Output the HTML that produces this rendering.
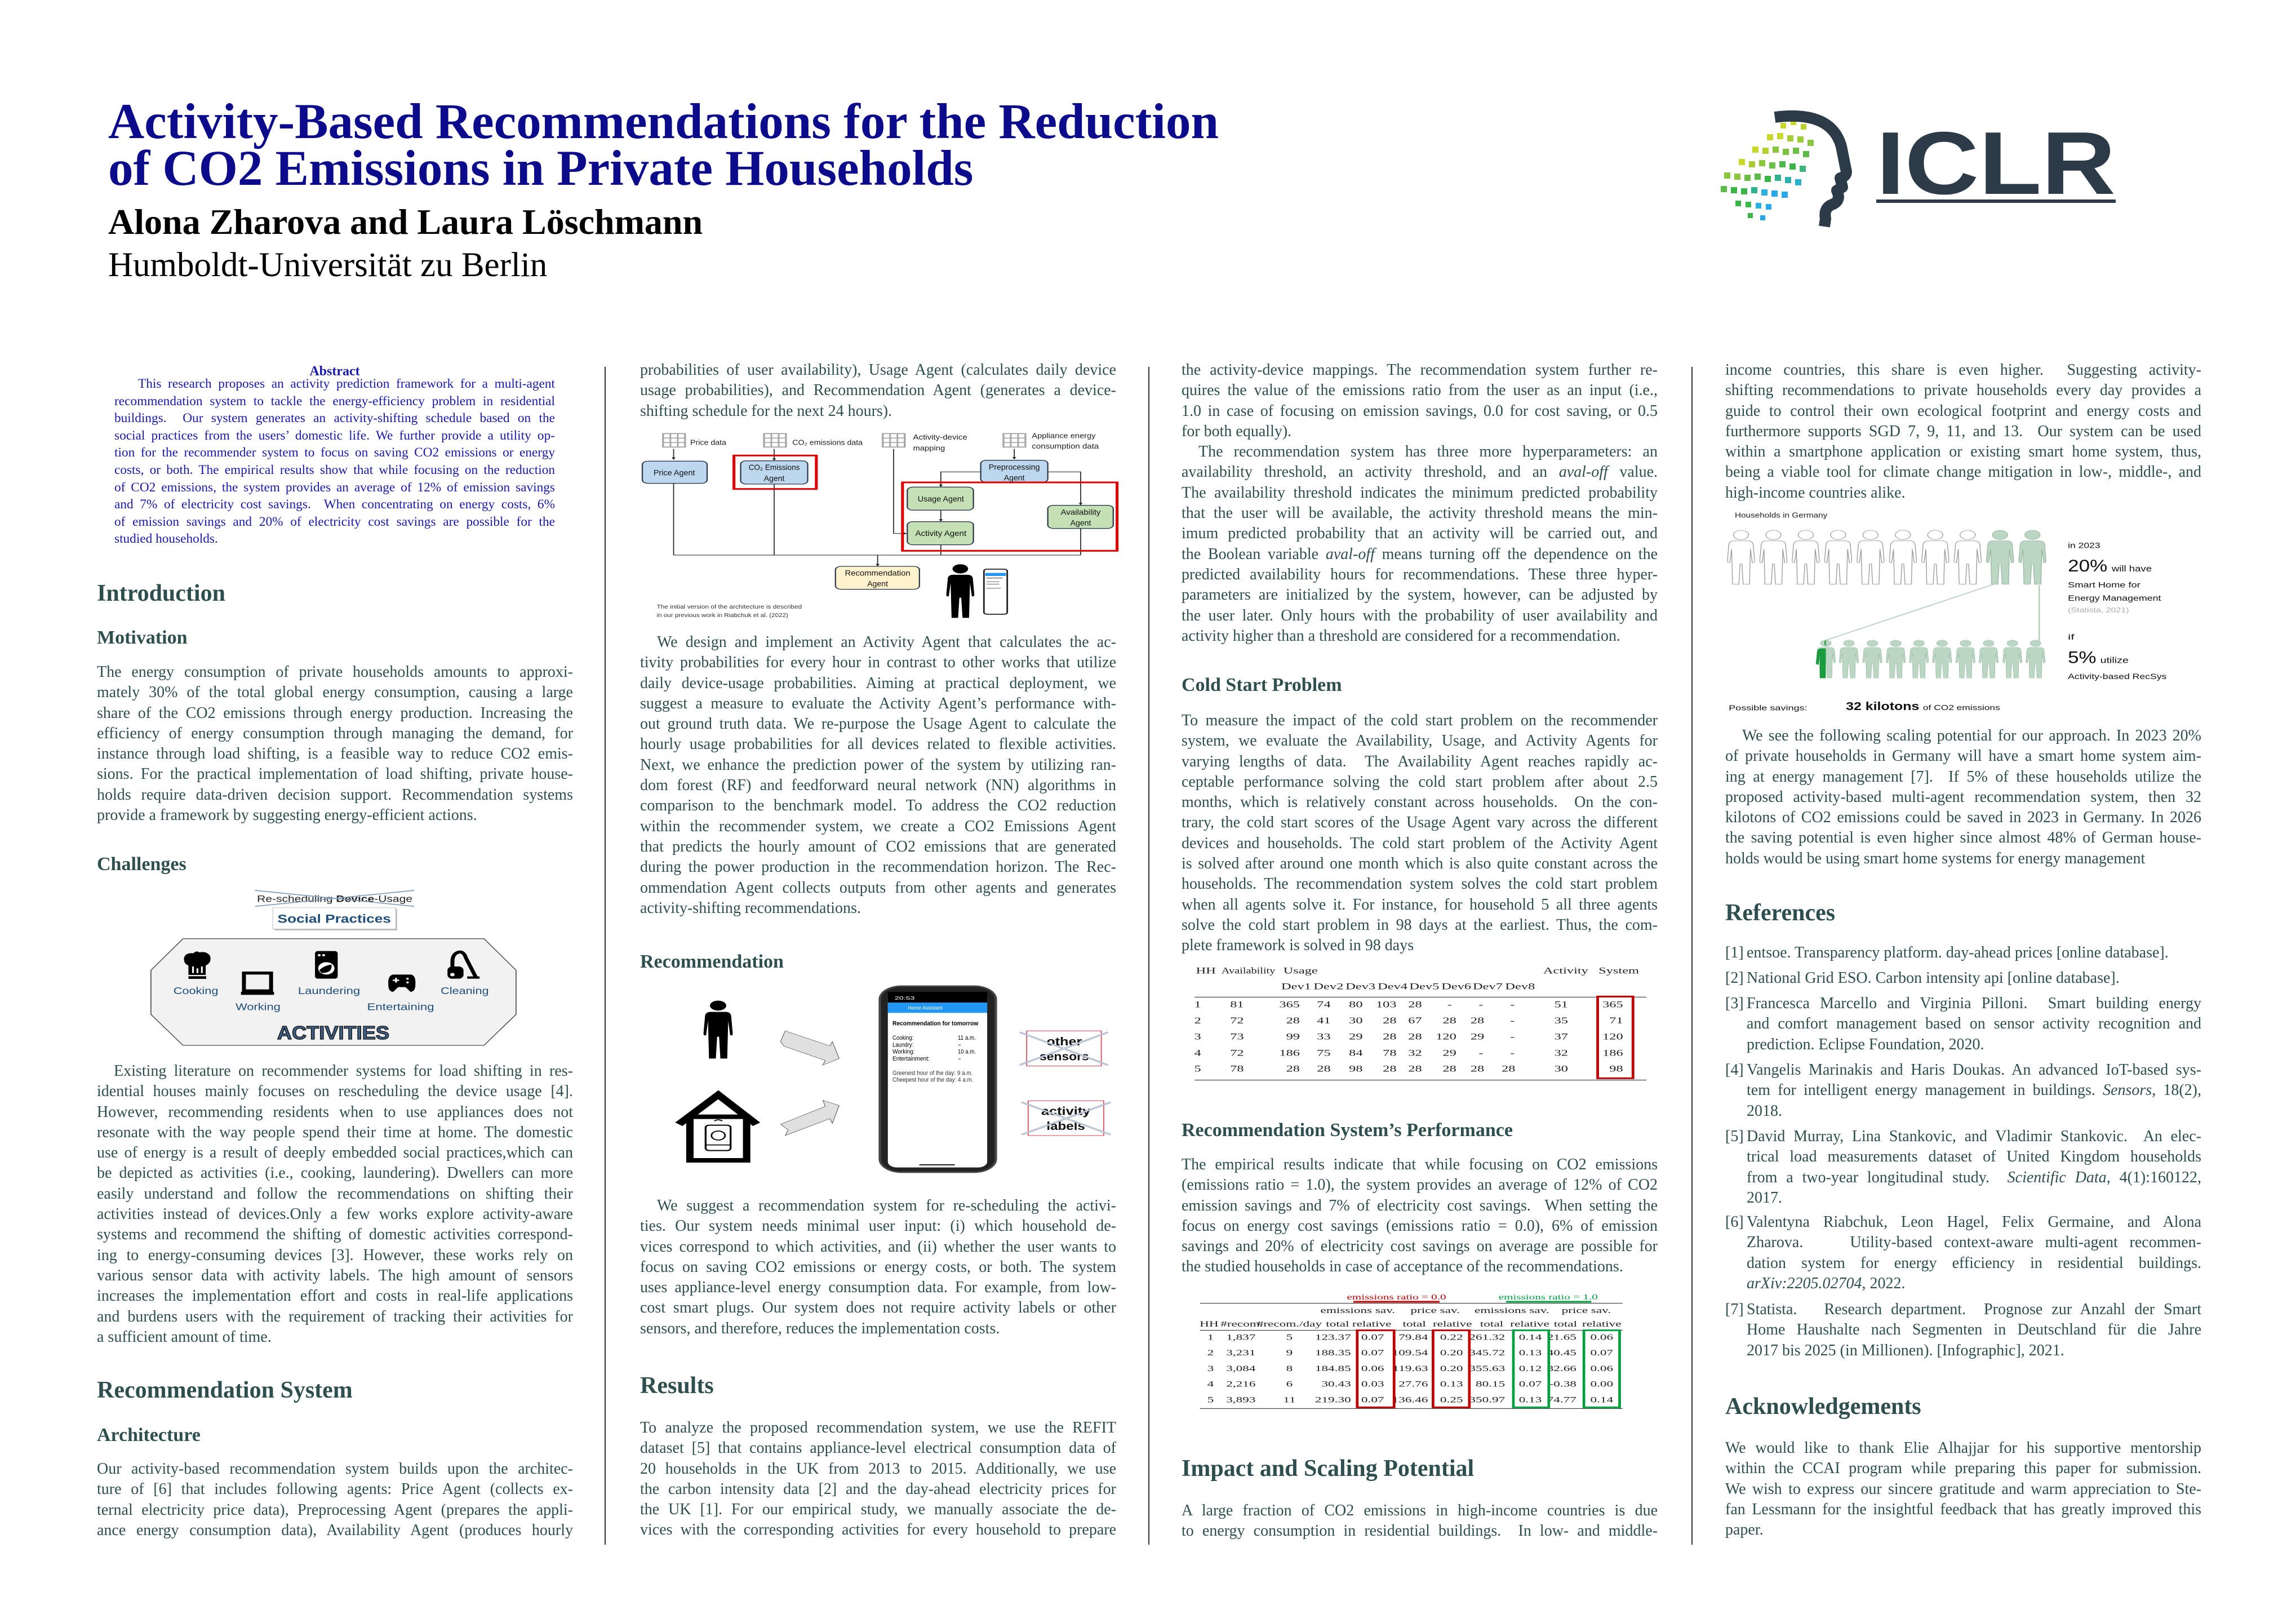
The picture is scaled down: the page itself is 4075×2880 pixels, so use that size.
<!DOCTYPE html>
<html><head><meta charset="utf-8">
<style>
html,body{margin:0;padding:0;background:#fff;}
body{width:4075px;height:2880px;position:relative;overflow:hidden;font-family:"Liberation Serif",serif;color:#2f4f4f;}
.a{position:absolute;}
.p{position:absolute;font-size:28px;margin-top:-9px;}
.p div{height:36.3px;line-height:36.3px;text-align:justify;text-align-last:justify;white-space:nowrap;}
.p div.l{text-align-last:left;}
.p div.i{text-indent:30px;}
.h1{position:absolute;font-weight:bold;font-size:42px;line-height:50px;height:50px;color:#2f4f4f;white-space:nowrap;margin-top:-10px;}
.h2{position:absolute;font-weight:bold;font-size:34px;line-height:44px;height:44px;color:#2f4f4f;white-space:nowrap;margin-top:-9px;}
.abs{position:absolute;left:203px;width:782px;font-size:23.3px;color:#1a1aa8;margin-top:-6px;}
.abs div{height:30.6px;line-height:30.6px;text-align:justify;text-align-last:justify;white-space:nowrap;}
.abs div.l{text-align-last:left;}
.vr{position:absolute;top:651px;width:2px;height:2090px;background:#333;}
svg{position:absolute;overflow:visible;}
.ref{position:absolute;left:3062px;width:845px;font-size:28px;margin-top:-9px;}
.ref span.n{position:absolute;left:0;top:0;line-height:36.3px;}
.ref .t{margin-left:38px;}
.ref .t div{height:36.3px;line-height:36.3px;text-align:justify;text-align-last:justify;white-space:nowrap;}
.ref .t div.l{text-align-last:left;}
</style></head><body>

<!-- Title -->
<div class="a" style="left:192px;top:172px;font-size:89px;line-height:89px;font-weight:bold;color:#0b0b8c;white-space:nowrap;">Activity-Based Recommendations for the Reduction</div>
<div class="a" style="left:192px;top:255px;font-size:89px;line-height:89px;font-weight:bold;color:#0b0b8c;white-space:nowrap;">of CO2 Emissions in Private Households</div>
<div class="a" style="left:192px;top:362px;font-size:64px;line-height:64px;font-weight:bold;color:#000;white-space:nowrap;">Alona Zharova and Laura Löschmann</div>
<div class="a" style="left:192px;top:440px;font-size:61px;line-height:61px;color:#000;white-space:nowrap;">Humboldt-Universität zu Berlin</div>

<!-- ICLR logo -->
<svg style="left:3040px;top:190px" width="800" height="220" viewBox="0 0 800 220">
  <g>
    <rect x="120" y="28" width="10" height="10" fill="#c9d62a"/><rect x="138" y="22" width="10" height="10" fill="#c9d62a"/><rect x="156" y="30" width="10" height="10" fill="#b8d030"/>
    <rect x="96" y="48" width="11" height="11" fill="#c9d62a"/><rect x="114" y="46" width="11" height="11" fill="#c9d62a"/><rect x="132" y="50" width="11" height="11" fill="#a8cc35"/><rect x="150" y="52" width="11" height="11" fill="#9ccc3a"/><rect x="168" y="58" width="11" height="11" fill="#8cc63e"/>
    <rect x="70" y="70" width="11" height="11" fill="#c9d62a"/><rect x="88" y="72" width="11" height="11" fill="#b8d030"/><rect x="106" y="70" width="11" height="11" fill="#8cc63e"/><rect x="124" y="74" width="11" height="11" fill="#7cc242"/><rect x="142" y="72" width="11" height="11" fill="#6cbf45"/><rect x="160" y="78" width="11" height="11" fill="#5cbb48"/>
    <rect x="46" y="92" width="11" height="11" fill="#c9d62a"/><rect x="64" y="96" width="11" height="11" fill="#a8cc35"/><rect x="82" y="94" width="11" height="11" fill="#8cc63e"/><rect x="100" y="98" width="11" height="11" fill="#6cbf45"/><rect x="118" y="96" width="11" height="11" fill="#4cb84a"/><rect x="136" y="100" width="11" height="11" fill="#3cb44a"/><rect x="154" y="104" width="11" height="11" fill="#3cb47a"/>
    <rect x="20" y="116" width="11" height="11" fill="#8cc63e"/><rect x="38" y="118" width="11" height="11" fill="#8cc63e"/><rect x="56" y="120" width="11" height="11" fill="#6cbf45"/><rect x="74" y="118" width="11" height="11" fill="#5cbb48"/><rect x="92" y="122" width="11" height="11" fill="#3cb44a"/><rect x="110" y="120" width="11" height="11" fill="#2fb28f"/><rect x="128" y="124" width="11" height="11" fill="#2cb0b0"/><rect x="146" y="128" width="11" height="11" fill="#2bb0d0"/>
    <rect x="14" y="140" width="11" height="11" fill="#5cbb48"/><rect x="32" y="142" width="11" height="11" fill="#3cb44a"/><rect x="50" y="144" width="11" height="11" fill="#3cb44a"/><rect x="68" y="142" width="11" height="11" fill="#2fb28f"/><rect x="86" y="146" width="11" height="11" fill="#2bb0e0"/><rect x="104" y="148" width="11" height="11" fill="#29a8e8"/><rect x="122" y="150" width="11" height="11" fill="#29a8e8"/>
    <rect x="40" y="166" width="10" height="10" fill="#3cb44a"/><rect x="58" y="168" width="10" height="10" fill="#3cb44a"/><rect x="76" y="170" width="10" height="10" fill="#2bb0e0"/><rect x="94" y="172" width="10" height="10" fill="#29a8e8"/>
    <rect x="62" y="188" width="9" height="9" fill="#3cb44a"/><rect x="84" y="192" width="9" height="9" fill="#29a8e8"/>
  </g>
  <path d="M110,18 Q210,5 228,70 L236,110 Q240,122 226,126 L230,142 L220,148 Q228,165 214,172 Q196,178 200,198 L198,212" fill="none" stroke="#2d3a48" stroke-width="20" stroke-linejoin="round"/>
  <text x="290" y="154" font-family="Liberation Sans, sans-serif" font-weight="bold" font-size="158" fill="#2d3a48" textLength="425" lengthAdjust="spacingAndGlyphs">ICLR</text>
  <rect x="290" y="164" width="425" height="6" fill="#2d3a48"/>
</svg>

<!-- column separators -->
<div class="vr" style="left:1073px"></div>
<div class="vr" style="left:2038px"></div>
<div class="vr" style="left:3002px"></div>

<!-- Abstract -->
<div class="a" style="left:203px;width:782px;top:644px;text-align:center;font-size:24px;font-weight:bold;color:#1a1aa8;line-height:30px;">Abstract</div>
<div class="abs" style="top:672px">
<div style="text-indent:42px">This research proposes an activity prediction framework for a multi-agent</div>
<div>recommendation system to tackle the energy-efficiency problem in residential</div>
<div>buildings.&nbsp; Our system generates an activity-shifting schedule based on the</div>
<div>social practices from the users’ domestic life. We further provide a utility op-</div>
<div>tion for the recommender system to focus on saving CO2 emissions or energy</div>
<div>costs, or both. The empirical results show that while focusing on the reduction</div>
<div>of CO2 emissions, the system provides an average of 12% of emission savings</div>
<div>and 7% of electricity cost savings.&nbsp; When concentrating on energy costs, 6%</div>
<div>of emission savings and 20% of electricity cost savings are possible for the</div>
<div class="l">studied households.</div>
</div>

<!-- Column 1 -->
<div class="h1" style="left:172px;top:1038px">Introduction</div>
<div class="h2" style="left:172px;top:1119px">Motivation</div>
<div class="p" style="left:172px;width:845px;top:1184px">
<div>The energy consumption of private households amounts to approxi-</div>
<div>mately 30% of the total global energy consumption, causing a large</div>
<div>share of the CO2 emissions through energy production. Increasing the</div>
<div>efficiency of energy consumption through managing the demand, for</div>
<div>instance through load shifting, is a feasible way to reduce CO2 emis-</div>
<div>sions. For the practical implementation of load shifting, private house-</div>
<div>holds require data-driven decision support. Recommendation systems</div>
<div class="l">provide a framework by suggesting energy-efficient actions.</div>
</div>
<div class="h2" style="left:172px;top:1521px">Challenges</div>

<svg style="left:260px;top:1580px" width="680" height="300" viewBox="0 0 1553 900" preserveAspectRatio="none">
  <text x="448" y="62" font-family="Liberation Sans, sans-serif" font-size="50" fill="#222" textLength="630" lengthAdjust="spacingAndGlyphs">Re-scheduling <tspan font-weight="bold">Device</tspan>-Usage</text>
  <line x1="440" y1="0" x2="1085" y2="85" stroke="#7f9cb8" stroke-width="5"/>
  <line x1="440" y1="85" x2="1085" y2="0" stroke="#7f9cb8" stroke-width="5"/>
  <rect x="518" y="99" width="498" height="114" fill="#bbb"/>
  <rect x="512" y="92" width="498" height="113" fill="#fff" stroke="#ccc" stroke-width="3"/>
  <text x="761" y="172" text-anchor="middle" font-family="Liberation Sans, sans-serif" font-weight="bold" font-size="64" fill="#1f4e79" textLength="460" lengthAdjust="spacingAndGlyphs">Social Practices</text>
  <polygon points="148,257 1368,257 1498,425 1498,660 1368,825 148,825 18,660 18,425" fill="#f2f2f2" stroke="#555" stroke-width="4"/>
  <path d="M170,400 Q150,390 152,360 Q158,330 190,335 Q200,318 215,330 Q245,322 258,350 Q265,385 240,400 L240,450 L170,450 Z" fill="#000"/>
  <rect x="170" y="457" width="72" height="14" fill="#000"/>
  <rect x="185" y="405" width="7" height="35" fill="#fff"/><rect x="203" y="415" width="7" height="25" fill="#fff"/><rect x="221" y="405" width="7" height="35" fill="#fff"/>
  <rect x="395" y="440" width="110" height="95" fill="none" stroke="#000" stroke-width="16"/>
  <rect x="383" y="540" width="134" height="16" fill="#000"/>
  <rect x="683" y="323" width="92" height="147" rx="12" fill="#000"/>
  <circle cx="729" cy="415" r="33" fill="#fff"/><path d="M700,425 Q720,400 750,395 Q755,440 710,440Z" fill="#000"/>
  <circle cx="700" cy="345" r="6" fill="#fff"/><circle cx="718" cy="345" r="6" fill="#fff"/>
  <path d="M1000,448 H1072 Q1092,452 1090,500 Q1090,540 1070,540 L1050,515 H1020 L1000,540 Q980,540 980,500 Q978,452 1000,448Z" fill="#000"/>
  <rect x="998" y="475" width="26" height="7" fill="#fff"/><rect x="1008" y="465" width="7" height="26" fill="#fff"/><circle cx="1058" cy="470" r="5" fill="#fff"/><circle cx="1058" cy="490" r="5" fill="#fff"/>
  <path d="M1240,470 L1240,380 Q1240,340 1262,330 Q1285,320 1295,360 L1335,462" fill="none" stroke="#000" stroke-width="16"/>
  <rect x="1220" y="405" width="65" height="65" rx="20" fill="#000"/><circle cx="1240" cy="448" r="9" fill="#fff"/>
  <rect x="1300" y="458" width="50" height="12" fill="#000"/>
  <g font-family="Liberation Sans, sans-serif" font-size="54" fill="#1f4e79" text-anchor="middle">
    <text x="200" y="552" textLength="182" lengthAdjust="spacingAndGlyphs">Cooking</text>
    <text x="452" y="637" textLength="182" lengthAdjust="spacingAndGlyphs">Working</text>
    <text x="740" y="552" textLength="252" lengthAdjust="spacingAndGlyphs">Laundering</text>
    <text x="1030" y="637" textLength="272" lengthAdjust="spacingAndGlyphs">Entertaining</text>
    <text x="1290" y="552" textLength="195" lengthAdjust="spacingAndGlyphs">Cleaning</text>
  </g>
  <text x="757" y="792" text-anchor="middle" font-family="Liberation Sans, sans-serif" font-weight="bold" font-size="100" fill="#3e6189" stroke="#111" stroke-width="4" textLength="455" lengthAdjust="spacingAndGlyphs">ACTIVITIES</text>
</svg>

<div class="p" style="left:172px;width:845px;top:1892px">
<div class="i">Existing literature on recommender systems for load shifting in res-</div>
<div>idential houses mainly focuses on rescheduling the device usage [4].</div>
<div>However, recommending residents when to use appliances does not</div>
<div>resonate with the way people spend their time at home. The domestic</div>
<div>use of energy is a result of deeply embedded social practices,which can</div>
<div>be depicted as activities (i.e., cooking, laundering). Dwellers can more</div>
<div>easily understand and follow the recommendations on shifting their</div>
<div>activities instead of devices.Only a few works explore activity-aware</div>
<div>systems and recommend the shifting of domestic activities correspond-</div>
<div>ing to energy-consuming devices [3]. However, these works rely on</div>
<div>various sensor data with activity labels. The high amount of sensors</div>
<div>increases the implementation effort and costs in real-life applications</div>
<div>and burdens users with the requirement of tracking their activities for</div>
<div class="l">a sufficient amount of time.</div>
</div>
<div class="h1" style="left:172px;top:2452px">Recommendation System</div>
<div class="h2" style="left:172px;top:2534px">Architecture</div>
<div class="p" style="left:172px;width:845px;top:2598px">
<div>Our activity-based recommendation system builds upon the architec-</div>
<div>ture of [6] that includes following agents: Price Agent (collects ex-</div>
<div>ternal electricity price data), Preprocessing Agent (prepares the appli-</div>
<div>ance energy consumption data), Availability Agent (produces hourly</div>
</div>

<!-- Column 2 -->
<div class="p" style="left:1136px;width:845px;top:648px">
<div>probabilities of user availability), Usage Agent (calculates daily device</div>
<div>usage probabilities), and Recommendation Agent (generates a device-</div>
<div class="l">shifting schedule for the next 24 hours).</div>
</div>

<svg style="left:1140px;top:750px" width="880" height="370" viewBox="0 0 1553 1110" preserveAspectRatio="none">
  <defs>
    <symbol id="grid" viewBox="0 0 75 78"><rect x="3" y="3" width="69" height="72" fill="#fff" stroke="#a6a6a6" stroke-width="6"/><line x1="3" y1="27" x2="72" y2="27" stroke="#a6a6a6" stroke-width="5"/><line x1="3" y1="51" x2="72" y2="51" stroke="#a6a6a6" stroke-width="5"/><line x1="26" y1="3" x2="26" y2="75" stroke="#a6a6a6" stroke-width="5"/><line x1="49" y1="3" x2="49" y2="75" stroke="#a6a6a6" stroke-width="5"/></symbol>
    <symbol id="pp" viewBox="0 0 90 300"><circle cx="45" cy="28" r="25"/><path d="M22,60 H68 Q82,60 85,78 L90,170 Q90,180 82,178 L76,105 L73,295 H52 L48,185 H42 L38,295 H17 L14,105 L8,178 Q0,180 0,170 L5,78 Q8,60 22,60Z"/></symbol>
  </defs>
  <use href="#grid" x="62" y="55" width="75" height="78"/>
  <use href="#grid" x="378" y="55" width="75" height="78"/>
  <use href="#grid" x="750" y="55" width="75" height="78"/>
  <use href="#grid" x="1128" y="55" width="75" height="78"/>
  <g font-family="Liberation Sans, sans-serif" font-size="40" fill="#222">
    <text x="150" y="118" textLength="113" lengthAdjust="spacingAndGlyphs">Price data</text>
    <text x="470" y="118" textLength="220" lengthAdjust="spacingAndGlyphs">CO₂ emissions data</text>
    <text x="848" y="90" textLength="170" lengthAdjust="spacingAndGlyphs">Activity-device</text>
    <text x="848" y="148" textLength="100" lengthAdjust="spacingAndGlyphs">mapping</text>
    <text x="1220" y="82" textLength="200" lengthAdjust="spacingAndGlyphs">Appliance energy</text>
    <text x="1220" y="138" textLength="210" lengthAdjust="spacingAndGlyphs">consumption data</text>
  </g>
  <g stroke="#222" stroke-width="3" fill="none">
    <line x1="98" y1="140" x2="98" y2="195"/>
    <line x1="413" y1="140" x2="413" y2="200"/>
    <line x1="1165" y1="140" x2="1165" y2="193"/>
    <line x1="98" y1="323" x2="98" y2="705"/>
    <line x1="413" y1="327" x2="413" y2="705"/>
    <line x1="98" y1="705" x2="1373" y2="705"/>
    <polyline points="1060,262 935,262 935,340"/>
    <polyline points="1270,262 1373,262 1373,437"/>
    <line x1="935" y1="466" x2="935" y2="524"/>
    <polyline points="787,140 787,590 827,590"/>
    <line x1="935" y1="650" x2="935" y2="705"/>
    <line x1="1373" y1="563" x2="1373" y2="705"/>
    <line x1="737" y1="705" x2="737" y2="762"/>
  </g>
  <g fill="#222">
    <polygon points="92,185 104,185 98,198"/><polygon points="407,190 419,190 413,203"/><polygon points="1159,183 1171,183 1165,196"/>
    <polygon points="929,330 941,330 935,343"/><polygon points="1367,427 1379,427 1373,440"/><polygon points="929,514 941,514 935,527"/>
    <polygon points="818,584 818,596 830,590"/><polygon points="731,752 743,752 737,765"/>
  </g>
  <g stroke="#2e3b4e" stroke-width="4">
    <rect x="0" y="205" width="203" height="118" rx="18" fill="#bdd7ee"/>
    <rect x="308" y="203" width="210" height="124" rx="18" fill="#bdd7ee"/>
    <rect x="1060" y="200" width="210" height="118" rx="18" fill="#bdd7ee"/>
    <rect x="830" y="343" width="207" height="123" rx="18" fill="#c5e0b4"/>
    <rect x="830" y="527" width="207" height="123" rx="18" fill="#c5e0b4"/>
    <rect x="1270" y="440" width="205" height="123" rx="18" fill="#c5e0b4"/>
    <rect x="605" y="765" width="263" height="122" rx="18" fill="#fff2cc"/>
  </g>
  <rect x="287" y="175" width="258" height="178" fill="none" stroke="#e00000" stroke-width="9"/>
  <rect x="815" y="318" width="672" height="364" fill="none" stroke="#e00000" stroke-width="9"/>
  <g font-family="Liberation Sans, sans-serif" font-size="42" fill="#111" text-anchor="middle">
    <text x="100" y="280" textLength="130" lengthAdjust="spacingAndGlyphs">Price Agent</text>
    <text x="413" y="252" textLength="160" lengthAdjust="spacingAndGlyphs">CO₂ Emissions</text>
    <text x="413" y="310" textLength="65" lengthAdjust="spacingAndGlyphs">Agent</text>
    <text x="1165" y="250" textLength="160" lengthAdjust="spacingAndGlyphs">Preprocessing</text>
    <text x="1165" y="307" textLength="65" lengthAdjust="spacingAndGlyphs">Agent</text>
    <text x="935" y="420" textLength="145" lengthAdjust="spacingAndGlyphs">Usage Agent</text>
    <text x="935" y="603" textLength="160" lengthAdjust="spacingAndGlyphs">Activity Agent</text>
    <text x="1373" y="490" textLength="125" lengthAdjust="spacingAndGlyphs">Availability</text>
    <text x="1373" y="547" textLength="65" lengthAdjust="spacingAndGlyphs">Agent</text>
    <text x="737" y="815" textLength="205" lengthAdjust="spacingAndGlyphs">Recommendation</text>
    <text x="737" y="872" textLength="65" lengthAdjust="spacingAndGlyphs">Agent</text>
  </g>
  <use href="#pp" x="952" y="750" width="88" height="295" fill="#000"/>
  <rect x="1070" y="780" width="73" height="240" rx="10" fill="#fff" stroke="#222" stroke-width="5"/>
  <rect x="1074" y="800" width="65" height="16" fill="#2196f3"/>
  <g fill="#666"><rect x="1078" y="825" width="50" height="4"/><rect x="1078" y="845" width="40" height="3"/><rect x="1078" y="858" width="40" height="3"/><rect x="1078" y="880" width="45" height="3"/></g>
  <g font-family="Liberation Sans, sans-serif" font-size="30" fill="#333">
    <text x="45" y="990" textLength="455" lengthAdjust="spacingAndGlyphs">The initial version of the architecture is described</text>
    <text x="45" y="1035" textLength="412" lengthAdjust="spacingAndGlyphs">in our previous work in Riabchuk et al. (2022)</text>
  </g>
</svg>

<div class="p" style="left:1136px;width:845px;top:1131px">
<div class="i">We design and implement an Activity Agent that calculates the ac-</div>
<div>tivity probabilities for every hour in contrast to other works that utilize</div>
<div>daily device-usage probabilities. Aiming at practical deployment, we</div>
<div>suggest a measure to evaluate the Activity Agent’s performance with-</div>
<div>out ground truth data. We re-purpose the Usage Agent to calculate the</div>
<div>hourly usage probabilities for all devices related to flexible activities.</div>
<div>Next, we enhance the prediction power of the system by utilizing ran-</div>
<div>dom forest (RF) and feedforward neural network (NN) algorithms in</div>
<div>comparison to the benchmark model. To address the CO2 reduction</div>
<div>within the recommender system, we create a CO2 Emissions Agent</div>
<div>that predicts the hourly amount of CO2 emissions that are generated</div>
<div>during the power production in the recommendation horizon. The Rec-</div>
<div>ommendation Agent collects outputs from other agents and generates</div>
<div class="l">activity-shifting recommendations.</div>
</div>
<div class="h2" style="left:1136px;top:1694px">Recommendation</div>

<svg style="left:1150px;top:1700px" width="850" height="380" viewBox="0 0 1553 1140" preserveAspectRatio="none">
  <use href="#pp" x="180" y="222" width="95" height="320" fill="#000"/>
  <polygon points="430,445 445,388 590,468 598,445 620,535 567,570 575,545 442,470" fill="#e0e0e0" stroke="#555" stroke-width="2"/>
  <polygon points="430,885 575,790 567,757 620,785 598,880 590,855 445,945 455,915" fill="#e0e0e0" stroke="#555" stroke-width="2"/>
  <polyline points="100,885 228,728 352,885" fill="none" stroke="#000" stroke-width="30"/>
  <rect x="136" y="845" width="184" height="232" fill="none" stroke="#000" stroke-width="24"/>
  <rect x="187" y="890" width="81" height="135" rx="12" fill="#fff" stroke="#000" stroke-width="6"/>
  <line x1="187" y1="995" x2="268" y2="995" stroke="#000" stroke-width="5"/>
  <ellipse cx="228" cy="945" rx="22" ry="24" fill="none" stroke="#000" stroke-width="5"/>
  <path d="M208,855 Q228,835 248,855 M215,868 Q228,855 241,868" fill="none" stroke="#000" stroke-width="5"/>
  <rect x="752" y="150" width="376" height="990" rx="70" fill="#222" stroke="#444" stroke-width="8"/>
  <rect x="778" y="180" width="322" height="935" rx="30" fill="#fff"/>
  <rect x="778" y="180" width="322" height="57" fill="#000"/>
  <rect x="778" y="237" width="322" height="55" fill="#2196f3"/>
  <rect x="880" y="1098" width="115" height="6" fill="#222"/>
  <g font-family="Liberation Sans, sans-serif">
    <text x="800" y="222" font-size="26" fill="#fff">20:53</text>
    <text x="843" y="275" font-size="28" fill="#fff" textLength="112" lengthAdjust="spacingAndGlyphs">Home Assistant</text>
    <text x="793" y="358" font-size="34" font-weight="bold" fill="#000" textLength="278" lengthAdjust="spacingAndGlyphs">Recommendation for tomorrow</text>
    <g font-size="32" fill="#000">
      <text x="793" y="435" textLength="68" lengthAdjust="spacingAndGlyphs">Cooking:</text><text x="1005" y="435" textLength="58" lengthAdjust="spacingAndGlyphs">11 a.m.</text>
      <text x="793" y="472" textLength="68" lengthAdjust="spacingAndGlyphs">Laundry:</text><text x="1005" y="472">-</text>
      <text x="793" y="508" textLength="72" lengthAdjust="spacingAndGlyphs">Working:</text><text x="1005" y="508" textLength="58" lengthAdjust="spacingAndGlyphs">10 a.m.</text>
      <text x="793" y="546" textLength="120" lengthAdjust="spacingAndGlyphs">Entertainment:</text><text x="1005" y="546">-</text>
    </g>
    <g font-size="32" fill="#333">
      <text x="793" y="622" textLength="260" lengthAdjust="spacingAndGlyphs">Greenest hour of the day:   9 a.m.</text>
      <text x="793" y="659" textLength="262" lengthAdjust="spacingAndGlyphs">Cheepest hour of the day:   4 a.m.</text>
    </g>
    <rect x="1228" y="388" width="242" height="187" fill="#fff" stroke="#e04050" stroke-width="3"/>
    <text x="1350" y="465" text-anchor="middle" font-size="60" font-weight="bold" fill="#111" textLength="115" lengthAdjust="spacingAndGlyphs">other</text>
    <text x="1350" y="545" text-anchor="middle" font-size="60" font-weight="bold" fill="#111" textLength="160" lengthAdjust="spacingAndGlyphs">sensors</text>
    <rect x="1233" y="760" width="245" height="185" fill="#fff" stroke="#e04050" stroke-width="3"/>
    <text x="1355" y="835" text-anchor="middle" font-size="60" font-weight="bold" fill="#111" textLength="160" lengthAdjust="spacingAndGlyphs">activity</text>
    <text x="1355" y="915" text-anchor="middle" font-size="60" font-weight="bold" fill="#111" textLength="125" lengthAdjust="spacingAndGlyphs">labels</text>
  </g>
  <g stroke="#9aa8c0" stroke-width="8">
    <line x1="1205" y1="395" x2="1492" y2="570"/><line x1="1205" y1="570" x2="1492" y2="395"/>
    <line x1="1212" y1="768" x2="1500" y2="940"/><line x1="1212" y1="940" x2="1500" y2="768"/>
  </g>
  <g stroke="#fff" stroke-width="2">
    <line x1="1205" y1="395" x2="1492" y2="570"/><line x1="1205" y1="570" x2="1492" y2="395"/>
    <line x1="1212" y1="768" x2="1500" y2="940"/><line x1="1212" y1="940" x2="1500" y2="768"/>
  </g>
</svg>

<div class="p" style="left:1136px;width:845px;top:2131px">
<div class="i">We suggest a recommendation system for re-scheduling the activi-</div>
<div>ties. Our system needs minimal user input: (i) which household de-</div>
<div>vices correspond to which activities, and (ii) whether the user wants to</div>
<div>focus on saving CO2 emissions or energy costs, or both. The system</div>
<div>uses appliance-level energy consumption data. For example, from low-</div>
<div>cost smart plugs. Our system does not require activity labels or other</div>
<div class="l">sensors, and therefore, reduces the implementation costs.</div>
</div>
<div class="h1" style="left:1136px;top:2444px">Results</div>
<div class="p" style="left:1136px;width:845px;top:2525px">
<div>To analyze the proposed recommendation system, we use the REFIT</div>
<div>dataset [5] that contains appliance-level electrical consumption data of</div>
<div>20 households in the UK from 2013 to 2015. Additionally, we use</div>
<div>the carbon intensity data [2] and the day-ahead electricity prices for</div>
<div>the UK [1]. For our empirical study, we manually associate the de-</div>
<div>vices with the corresponding activities for every household to prepare</div>
</div>

<!-- Column 3 -->
<div class="p" style="left:2097px;width:845px;top:648px">
<div>the activity-device mappings. The recommendation system further re-</div>
<div>quires the value of the emissions ratio from the user as an input (i.e.,</div>
<div>1.0 in case of focusing on emission savings, 0.0 for cost saving, or 0.5</div>
<div class="l">for both equally).</div>
<div class="i">The recommendation system has three more hyperparameters: an</div>
<div>availability threshold, an activity threshold, and an <i>aval-off</i> value.</div>
<div>The availability threshold indicates the minimum predicted probability</div>
<div>that the user will be available, the activity threshold means the min-</div>
<div>imum predicted probability that an activity will be carried out, and</div>
<div>the Boolean variable <i>aval-off</i> means turning off the dependence on the</div>
<div>predicted availability hours for recommendations. These three hyper-</div>
<div>parameters are initialized by the system, however, can be adjusted by</div>
<div>the user later. Only hours with the probability of user availability and</div>
<div class="l">activity higher than a threshold are considered for a recommendation.</div>
</div>
<div class="h2" style="left:2097px;top:1203px">Cold Start Problem</div>
<div class="p" style="left:2097px;width:845px;top:1270px">
<div>To measure the impact of the cold start problem on the recommender</div>
<div>system, we evaluate the Availability, Usage, and Activity Agents for</div>
<div>varying lengths of data.&nbsp; The Availability Agent reaches rapidly ac-</div>
<div>ceptable performance solving the cold start problem after about 2.5</div>
<div>months, which is relatively constant across households.&nbsp; On the con-</div>
<div>trary, the cold start scores of the Usage Agent vary across the different</div>
<div>devices and households. The cold start problem of the Activity Agent</div>
<div>is solved after around one month which is also quite constant across the</div>
<div>households. The recommendation system solves the cold start problem</div>
<div>when all agents solve it. For instance, for household 5 all three agents</div>
<div>solve the cold start problem in 98 days at the earliest. Thus, the com-</div>
<div class="l">plete framework is solved in 98 days</div>
</div>

<svg style="left:2120px;top:1710px" width="825" height="230" viewBox="0 0 1553 690" preserveAspectRatio="none">
  <g font-family="Liberation Serif, serif" font-size="46" fill="#222">
    <text x="5" y="52">HH</text>
    <text x="90" y="52" textLength="180" lengthAdjust="spacingAndGlyphs">Availability</text>
    <text x="297" y="52">Usage</text>
    <text x="1165" y="52">Activity</text>
    <text x="1350" y="52">System</text>
    <text x="290" y="137">Dev1</text><text x="398" y="137">Dev2</text><text x="505" y="137">Dev3</text><text x="612" y="137">Dev4</text>
    <text x="718" y="137">Dev5</text><text x="825" y="137">Dev6</text><text x="930" y="137">Dev7</text><text x="1038" y="137">Dev8</text>
  </g>
  <line x1="0" y1="178" x2="1510" y2="178" stroke="#222" stroke-width="3"/>
  <line x1="0" y1="620" x2="1510" y2="620" stroke="#222" stroke-width="3"/>
  <g font-family="Liberation Serif, serif" font-size="46" fill="#222" text-anchor="end">
    <g transform="translate(0,232)"><text x="22">1</text><text x="165">81</text><text x="352">365</text><text x="455">74</text><text x="562">80</text><text x="675">103</text><text x="760">28</text><text x="860">-</text><text x="965">-</text><text x="1070">-</text><text x="1248">51</text><text x="1432">365</text></g>
    <g transform="translate(0,318)"><text x="22">2</text><text x="165">72</text><text x="352">28</text><text x="455">41</text><text x="562">30</text><text x="675">28</text><text x="760">67</text><text x="875">28</text><text x="968">28</text><text x="1070">-</text><text x="1248">35</text><text x="1432">71</text></g>
    <g transform="translate(0,403)"><text x="22">3</text><text x="165">73</text><text x="352">99</text><text x="455">33</text><text x="562">29</text><text x="675">28</text><text x="760">28</text><text x="875">120</text><text x="968">29</text><text x="1070">-</text><text x="1248">37</text><text x="1432">120</text></g>
    <g transform="translate(0,490)"><text x="22">4</text><text x="165">72</text><text x="352">186</text><text x="455">75</text><text x="562">84</text><text x="675">78</text><text x="760">32</text><text x="875">29</text><text x="965">-</text><text x="1070">-</text><text x="1248">32</text><text x="1432">186</text></g>
    <g transform="translate(0,575)"><text x="22">5</text><text x="165">78</text><text x="352">28</text><text x="455">28</text><text x="562">98</text><text x="675">28</text><text x="760">28</text><text x="875">28</text><text x="968">28</text><text x="1072">28</text><text x="1248">30</text><text x="1432">98</text></g>
  </g>
  <rect x="1347" y="175" width="118" height="435" fill="none" stroke="#c00000" stroke-width="9"/>
</svg>

<div class="h2" style="left:2097px;top:1993px">Recommendation System’s Performance</div>
<div class="p" style="left:2097px;width:845px;top:2058px">
<div>The empirical results indicate that while focusing on CO2 emissions</div>
<div>(emissions ratio = 1.0), the system provides an average of 12% of CO2</div>
<div>emission savings and 7% of electricity cost savings.&nbsp; When setting the</div>
<div>focus on energy cost savings (emissions ratio = 0.0), 6% of emission</div>
<div>savings and 20% of electricity cost savings on average are possible for</div>
<div class="l">the studied households in case of acceptance of the recommendations.</div>
</div>

<svg style="left:2130px;top:2300px" width="820" height="230" viewBox="0 0 1553 690" preserveAspectRatio="none">
  <g font-family="Liberation Serif, serif" font-size="40" text-anchor="middle">
    <text x="660" y="18" fill="#c00000">emissions ratio = 0.0</text>
    <text x="1170" y="18" fill="#00a040">emissions ratio = 1.0</text>
  </g>
  <line x1="515" y1="30" x2="805" y2="30" stroke="#c00000" stroke-width="9"/>
  <line x1="1028" y1="30" x2="1315" y2="30" stroke="#00a040" stroke-width="9"/>
  <line x1="0" y1="38" x2="1420" y2="38" stroke="#222" stroke-width="3"/>
  <g font-family="Liberation Serif, serif" font-size="44" fill="#222" text-anchor="middle">
    <text x="530" y="90">emissions sav.</text><text x="790" y="90">price sav.</text><text x="1048" y="90">emissions sav.</text><text x="1298" y="90">price sav.</text>
    <text x="30" y="162">HH</text><text x="140" y="162">#recom.</text><text x="300" y="162">#recom./day</text><text x="462" y="162">total</text><text x="577" y="162">relative</text><text x="720" y="162">total</text><text x="848" y="162">relative</text><text x="980" y="162">total</text><text x="1108" y="162">relative</text><text x="1228" y="162">total</text><text x="1350" y="162">relative</text>
  </g>
  <line x1="0" y1="182" x2="1420" y2="182" stroke="#222" stroke-width="3"/>
  <line x1="0" y1="598" x2="1420" y2="598" stroke="#222" stroke-width="3"/>
  <g font-family="Liberation Serif, serif" font-size="44" fill="#222">
    <g transform="translate(0,232)"><text x="35" text-anchor="middle">1</text><text x="137" text-anchor="middle">1,837</text><text x="300" text-anchor="middle">5</text><text x="507" text-anchor="end">123.37</text><text x="580" text-anchor="middle">0.07</text><text x="766" text-anchor="end">79.84</text><text x="845" text-anchor="middle">0.22</text><text x="1025" text-anchor="end">261.32</text><text x="1110" text-anchor="middle">0.14</text><text x="1265" text-anchor="end">21.65</text><text x="1350" text-anchor="middle">0.06</text></g>
    <g transform="translate(0,315)"><text x="35" text-anchor="middle">2</text><text x="137" text-anchor="middle">3,231</text><text x="300" text-anchor="middle">9</text><text x="507" text-anchor="end">188.35</text><text x="580" text-anchor="middle">0.07</text><text x="766" text-anchor="end">109.54</text><text x="845" text-anchor="middle">0.20</text><text x="1025" text-anchor="end">345.72</text><text x="1110" text-anchor="middle">0.13</text><text x="1265" text-anchor="end">40.45</text><text x="1350" text-anchor="middle">0.07</text></g>
    <g transform="translate(0,399)"><text x="35" text-anchor="middle">3</text><text x="137" text-anchor="middle">3,084</text><text x="300" text-anchor="middle">8</text><text x="507" text-anchor="end">184.85</text><text x="580" text-anchor="middle">0.06</text><text x="766" text-anchor="end">119.63</text><text x="845" text-anchor="middle">0.20</text><text x="1025" text-anchor="end">355.63</text><text x="1110" text-anchor="middle">0.12</text><text x="1265" text-anchor="end">32.66</text><text x="1350" text-anchor="middle">0.06</text></g>
    <g transform="translate(0,482)"><text x="35" text-anchor="middle">4</text><text x="137" text-anchor="middle">2,216</text><text x="300" text-anchor="middle">6</text><text x="507" text-anchor="end">30.43</text><text x="580" text-anchor="middle">0.03</text><text x="766" text-anchor="end">27.76</text><text x="845" text-anchor="middle">0.13</text><text x="1025" text-anchor="end">80.15</text><text x="1110" text-anchor="middle">0.07</text><text x="1265" text-anchor="end">-0.38</text><text x="1350" text-anchor="middle">0.00</text></g>
    <g transform="translate(0,565)"><text x="35" text-anchor="middle">5</text><text x="137" text-anchor="middle">3,893</text><text x="300" text-anchor="middle">11</text><text x="507" text-anchor="end">219.30</text><text x="580" text-anchor="middle">0.07</text><text x="766" text-anchor="end">136.46</text><text x="845" text-anchor="middle">0.25</text><text x="1025" text-anchor="end">350.97</text><text x="1110" text-anchor="middle">0.13</text><text x="1265" text-anchor="end">74.77</text><text x="1350" text-anchor="middle">0.14</text></g>
  </g>
  <g fill="none" stroke-width="9">
    <rect x="528" y="182" width="124" height="410" stroke="#c00000"/>
    <rect x="783" y="182" width="122" height="410" stroke="#c00000"/>
    <rect x="1053" y="182" width="119" height="410" stroke="#00a040"/>
    <rect x="1290" y="182" width="120" height="410" stroke="#00a040"/>
  </g>
</svg>

<div class="h1" style="left:2097px;top:2591px">Impact and Scaling Potential</div>
<div class="p" style="left:2097px;width:845px;top:2672px">
<div>A large fraction of CO2 emissions in high-income countries is due</div>
<div>to energy consumption in residential buildings.&nbsp; In low- and middle-</div>
</div>

<!-- Column 4 -->
<div class="p" style="left:3062px;width:845px;top:648px">
<div>income countries, this share is even higher.&nbsp; Suggesting activity-</div>
<div>shifting recommendations to private households every day provides a</div>
<div>guide to control their own ecological footprint and energy costs and</div>
<div>furthermore supports SGD 7, 9, 11, and 13.&nbsp; Our system can be used</div>
<div>within a smartphone application or existing smart home system, thus,</div>
<div>being a viable tool for climate change mitigation in low-, middle-, and</div>
<div class="l">high-income countries alike.</div>
</div>

<svg style="left:3090px;top:900px" width="850" height="390" viewBox="0 0 1553 1170" preserveAspectRatio="none">
  <g font-family="Liberation Sans, sans-serif" fill="#222">
    <text x="-20" y="55" font-size="40" textLength="300" lengthAdjust="spacingAndGlyphs">Households in Germany</text>
  </g>
  <g stroke="#9a9a9a" stroke-width="2.5" fill="#fff">
    <use href="#pp" x="-45" y="120" width="90" height="295"/>
    <use href="#pp" x="60" y="120" width="90" height="295"/>
    <use href="#pp" x="165" y="120" width="90" height="295"/>
    <use href="#pp" x="270" y="120" width="90" height="295"/>
    <use href="#pp" x="375" y="120" width="90" height="295"/>
    <use href="#pp" x="480" y="120" width="90" height="295"/>
    <use href="#pp" x="585" y="120" width="90" height="295"/>
    <use href="#pp" x="690" y="120" width="90" height="295"/>
  </g>
  <g stroke="#9ab8a4" stroke-width="2.5" fill="#bcd6c4">
    <use href="#pp" x="795" y="120" width="90" height="295"/>
    <use href="#pp" x="900" y="120" width="90" height="295"/>
  </g>
  <line x1="820" y1="410" x2="272" y2="710" stroke="#a8c8b0" stroke-width="4"/>
  <line x1="967" y1="415" x2="967" y2="710" stroke="#a8c8b0" stroke-width="4"/>
  <g stroke="#9ab8a4" stroke-width="2" fill="#bcd6c4">
    <use href="#pp" x="243" y="705" width="64" height="208"/>
    <use href="#pp" x="318" y="705" width="64" height="208"/>
    <use href="#pp" x="394" y="705" width="64" height="208"/>
    <use href="#pp" x="470" y="705" width="64" height="208"/>
    <use href="#pp" x="545" y="705" width="64" height="208"/>
    <use href="#pp" x="620" y="705" width="64" height="208"/>
    <use href="#pp" x="696" y="705" width="64" height="208"/>
    <use href="#pp" x="771" y="705" width="64" height="208"/>
    <use href="#pp" x="848" y="705" width="64" height="208"/>
    <use href="#pp" x="923" y="705" width="64" height="208"/>
  </g>
  <path d="M275,705 A22,28 0 0 0 275,740 Z M275,752 L261,752 Q248,752 247,770 L243,830 Q243,840 252,838 L255,790 L256,910 H275 Z" fill="#1a9c3e"/>
  <g font-family="Liberation Sans, sans-serif" fill="#111">
    <text x="1060" y="218" font-size="42" textLength="105" lengthAdjust="spacingAndGlyphs">in 2023</text>
    <text x="1060" y="342" font-size="90" textLength="128" lengthAdjust="spacingAndGlyphs">20%</text>
    <text x="1202" y="342" font-size="44" textLength="130" lengthAdjust="spacingAndGlyphs">will have</text>
    <text x="1060" y="428" font-size="42" textLength="235" lengthAdjust="spacingAndGlyphs">Smart Home for</text>
    <text x="1060" y="498" font-size="42" textLength="302" lengthAdjust="spacingAndGlyphs">Energy Management</text>
    <text x="1060" y="560" font-size="36" fill="#aaa" textLength="198" lengthAdjust="spacingAndGlyphs">(Statista, 2021)</text>
    <text x="1060" y="705" font-size="42">if</text>
    <text x="1060" y="830" font-size="90" textLength="92" lengthAdjust="spacingAndGlyphs">5%</text>
    <text x="1165" y="830" font-size="44" textLength="92" lengthAdjust="spacingAndGlyphs">utilize</text>
    <text x="1060" y="915" font-size="42" textLength="320" lengthAdjust="spacingAndGlyphs">Activity-based RecSys</text>
    <text x="-40" y="1082" font-size="40" textLength="255" lengthAdjust="spacingAndGlyphs">Possible savings:</text>
    <text x="340" y="1080" font-size="62" font-weight="bold" textLength="238" lengthAdjust="spacingAndGlyphs">32 kilotons</text>
    <text x="590" y="1080" font-size="40" textLength="250" lengthAdjust="spacingAndGlyphs">of CO2 emissions</text>
  </g>
</svg>

<div class="p" style="left:3062px;width:845px;top:1297px">
<div class="i">We see the following scaling potential for our approach. In 2023 20%</div>
<div>of private households in Germany will have a smart home system aim-</div>
<div>ing at energy management [7].&nbsp; If 5% of these households utilize the</div>
<div>proposed activity-based multi-agent recommendation system, then 32</div>
<div>kilotons of CO2 emissions could be saved in 2023 in Germany. In 2026</div>
<div>the saving potential is even higher since almost 48% of German house-</div>
<div class="l">holds would be using smart home systems for energy management</div>
</div>

<div class="h1" style="left:3062px;top:1605px">References</div>
<div class="ref" style="top:1682px"><span class="n">[1]</span><div class="t"><div class="l">entsoe. Transparency platform. day-ahead prices [online database].</div></div></div>
<div class="ref" style="top:1727px"><span class="n">[2]</span><div class="t"><div class="l">National Grid ESO. Carbon intensity api [online database].</div></div></div>
<div class="ref" style="top:1772px"><span class="n">[3]</span><div class="t"><div>Francesca Marcello and Virginia Pilloni.&nbsp; Smart building energy</div><div>and comfort management based on sensor activity recognition and</div><div class="l">prediction. Eclipse Foundation, 2020.</div></div></div>
<div class="ref" style="top:1890px"><span class="n">[4]</span><div class="t"><div>Vangelis Marinakis and Haris Doukas. An advanced IoT-based sys-</div><div>tem for intelligent energy management in buildings. <i>Sensors</i>, 18(2),</div><div class="l">2018.</div></div></div>
<div class="ref" style="top:2008px"><span class="n">[5]</span><div class="t"><div>David Murray, Lina Stankovic, and Vladimir Stankovic.&nbsp; An elec-</div><div>trical load measurements dataset of United Kingdom households</div><div>from a two-year longitudinal study.&nbsp; <i>Scientific Data</i>, 4(1):160122,</div><div class="l">2017.</div></div></div>
<div class="ref" style="top:2160px"><span class="n">[6]</span><div class="t"><div>Valentyna Riabchuk, Leon Hagel, Felix Germaine, and Alona</div><div>Zharova.&nbsp;&nbsp;&nbsp; Utility-based context-aware multi-agent recommen-</div><div>dation system for energy efficiency in residential buildings.</div><div class="l"><i>arXiv:2205.02704</i>, 2022.</div></div></div>
<div class="ref" style="top:2315px"><span class="n">[7]</span><div class="t"><div>Statista.&nbsp;&nbsp; Research department.&nbsp; Prognose zur Anzahl der Smart</div><div>Home Haushalte nach Segmenten in Deutschland für die Jahre</div><div class="l">2017 bis 2025 (in Millionen). [Infographic], 2021.</div></div></div>

<div class="h1" style="left:3062px;top:2481px">Acknowledgements</div>
<div class="p" style="left:3062px;width:845px;top:2561px">
<div>We would like to thank Elie Alhajjar for his supportive mentorship</div>
<div>within the CCAI program while preparing this paper for submission.</div>
<div>We wish to express our sincere gratitude and warm appreciation to Ste-</div>
<div>fan Lessmann for the insightful feedback that has greatly improved this</div>
<div class="l">paper.</div>
</div>

</body></html>
